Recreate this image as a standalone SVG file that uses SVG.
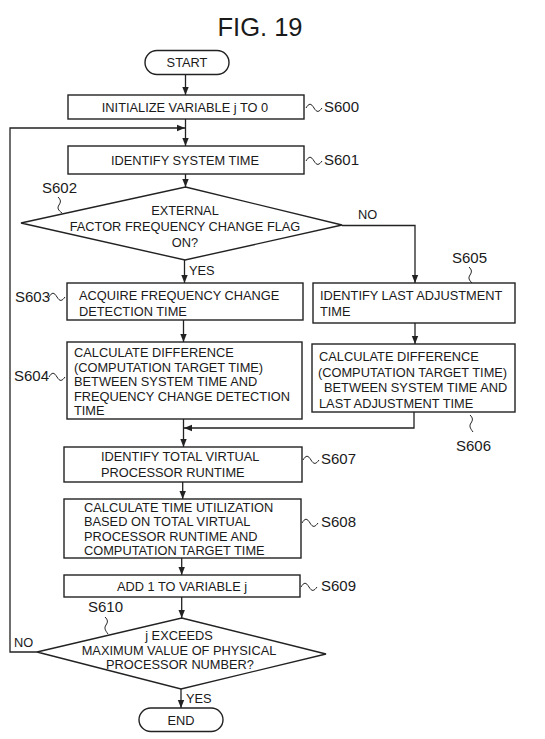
<svg xmlns="http://www.w3.org/2000/svg" width="545" height="739" viewBox="0 0 545 739">
<style>
.b{fill:#fff;stroke:#222;stroke-width:1.4}
.t{font-family:"Liberation Sans",Arial,sans-serif;font-size:12.8px;fill:#1a1a1a}
.c{text-anchor:middle}
.l{font-family:"Liberation Sans",Arial,sans-serif;font-size:15px;fill:#1a1a1a}
.w{fill:none;stroke:#222;stroke-width:1}
#connectors path{fill:none;stroke:#222;stroke-width:1.3}
</style>
<defs>
<marker id="ar" viewBox="0 0 10 10" refX="10" refY="5" markerWidth="8" markerHeight="8" markerUnits="userSpaceOnUse" orient="auto">
<path d="M0,1 L10,5 L0,9 z" fill="#222"/>
</marker>
</defs>
<rect width="545" height="739" fill="#fff"/>
<text x="260" y="36" class="t c" style="font-size:25.5px">FIG. 19</text>

<g id="connectors">
<path d="M185.5,74 V95" marker-end="url(#ar)"/>
<path d="M185.5,119 V146" marker-end="url(#ar)"/>
<path d="M37,652 H10 V128 H185" marker-end="url(#ar)"/>
<path d="M185.5,174 V187" marker-end="url(#ar)"/>
<path d="M184.5,260 V283" marker-end="url(#ar)"/>
<path d="M342,225.5 H415 V283" marker-end="url(#ar)"/>
<path d="M183.5,320 V342" marker-end="url(#ar)"/>
<path d="M415,323 V344" marker-end="url(#ar)"/>
<path d="M414,412 V428 H184" marker-end="url(#ar)"/>
<path d="M183.5,419 V447" marker-end="url(#ar)"/>
<path d="M182.7,482 V499" marker-end="url(#ar)"/>
<path d="M181.7,558 V575" marker-end="url(#ar)"/>
<path d="M181.7,597 V618" marker-end="url(#ar)"/>
<path d="M181,689 V708" marker-end="url(#ar)"/>
<text x="358" y="218.5" class="t">NO</text>
<text x="189" y="275" class="t">YES</text>
<text x="14" y="647" class="t">NO</text>
<text x="186" y="702.5" class="t">YES</text>
</g>

<g id="start">
<rect x="145" y="50.5" width="84" height="24" rx="12" class="b"/>
<text x="187" y="66.6" class="t c">START</text>
</g>

<g id="S600">
<rect x="68" y="95" width="236" height="24" class="b"/>
<text x="185" y="112" class="t c">INITIALIZE VARIABLE j TO 0</text>
<path d="M306,108 c3,-5 5,-5 8,0 s5,4 8,0" class="w"/>
<text x="324" y="112" class="l">S600</text>
</g>

<g id="S601">
<rect x="68" y="146" width="236" height="28" class="b"/>
<text x="185" y="164.5" class="t c">IDENTIFY SYSTEM TIME</text>
<path d="M306,161 c3,-5 5,-5 8,0 s5,4 8,0" class="w"/>
<text x="324" y="165" class="l">S601</text>
</g>

<g id="S602">
<path d="M185.5,187 L342,225 L185,260 L21,223 Z" class="b"/>
<text x="185" y="215" class="t c">EXTERNAL</text>
<text x="185" y="231" class="t c">FACTOR FREQUENCY CHANGE FLAG</text>
<text x="185" y="247" class="t c">ON?</text>
<path d="M58,197 c3,3 3,5 1,8 s-1,5 3,8" class="w"/>
<text x="42" y="193" class="l">S602</text>
</g>

<g id="S603">
<rect x="67" y="283" width="236" height="37" class="b"/>
<text x="79" y="300" class="t">ACQUIRE FREQUENCY CHANGE</text>
<text x="79" y="315.5" class="t">DETECTION TIME</text>
<path d="M49,297 c3,-5 5,-5 8,0 s5,4 8,0" class="w"/>
<text x="15" y="302" class="l">S603</text>
</g>

<g id="S604">
<rect x="67" y="342" width="235" height="77" class="b"/>
<text x="74" y="356.5" class="t">CALCULATE DIFFERENCE</text>
<text x="74" y="371.5" class="t">(COMPUTATION TARGET TIME)</text>
<text x="74" y="386" class="t">BETWEEN SYSTEM TIME AND</text>
<text x="74" y="400.5" class="t">FREQUENCY CHANGE DETECTION</text>
<text x="74" y="414.5" class="t">TIME</text>
<path d="M49,377 c3,-5 5,-5 8,0 s5,4 8,0" class="w"/>
<text x="14" y="381" class="l">S604</text>
</g>

<g id="S605">
<rect x="313" y="283" width="202" height="40" class="b"/>
<text x="320" y="300" class="t">IDENTIFY LAST ADJUSTMENT</text>
<text x="320" y="315.5" class="t">TIME</text>
<path d="M469,267 c3,3 3,5 1,8 s-1,5 2,8" class="w"/>
<text x="452" y="263" class="l">S605</text>
</g>

<g id="S606">
<rect x="312" y="344" width="203" height="68" class="b"/>
<text x="319" y="360.5" class="t">CALCULATE DIFFERENCE</text>
<text x="318" y="376.5" class="t">(COMPUTATION TARGET TIME)</text>
<text x="324" y="392" class="t">BETWEEN SYSTEM TIME AND</text>
<text x="319" y="407.5" class="t">LAST ADJUSTMENT TIME</text>
<path d="M470,415 c3,3 3,5 1,8 s-1,5 2,9" class="w"/>
<text x="456" y="451" class="l">S606</text>
</g>

<g id="S607">
<rect x="64" y="447" width="238" height="35" class="b"/>
<text x="101" y="461" class="t">IDENTIFY TOTAL VIRTUAL</text>
<text x="101" y="476.5" class="t">PROCESSOR RUNTIME</text>
<path d="M303,460 c3,-5 5,-5 8,0 s5,4 8,0" class="w"/>
<text x="321" y="464" class="l">S607</text>
</g>

<g id="S608">
<rect x="64" y="499" width="237" height="59" class="b"/>
<text x="84" y="511.5" class="t">CALCULATE TIME UTILIZATION</text>
<text x="84" y="526" class="t">BASED ON TOTAL VIRTUAL</text>
<text x="84" y="540.5" class="t">PROCESSOR RUNTIME AND</text>
<text x="84" y="554.5" class="t">COMPUTATION TARGET TIME</text>
<path d="M302,523 c3,-5 5,-5 8,0 s5,4 8,0" class="w"/>
<text x="321" y="527" class="l">S608</text>
</g>

<g id="S609">
<rect x="64" y="575" width="236" height="22" class="b"/>
<text x="182" y="590.5" class="t c">ADD 1 TO VARIABLE j</text>
<path d="M301,587 c3,-5 5,-5 8,0 s5,4 8,0" class="w"/>
<text x="321" y="591" class="l">S609</text>
</g>

<g id="S610">
<path d="M181.7,618 L326,654 L181,689 L37,652 Z" class="b"/>
<text x="179" y="639.5" class="t c">j EXCEEDS</text>
<text x="179" y="654.5" class="t c">MAXIMUM VALUE OF PHYSICAL</text>
<text x="180" y="668.5" class="t c">PROCESSOR NUMBER?</text>
<path d="M105,617 c3,3 3,5 1,8 s-1,5 2,9" class="w"/>
<text x="88" y="612" class="l">S610</text>
</g>

<g id="end">
<rect x="139" y="708" width="84" height="23.5" rx="11.75" class="b"/>
<text x="181" y="724.5" class="t c">END</text>
</g>
</svg>
